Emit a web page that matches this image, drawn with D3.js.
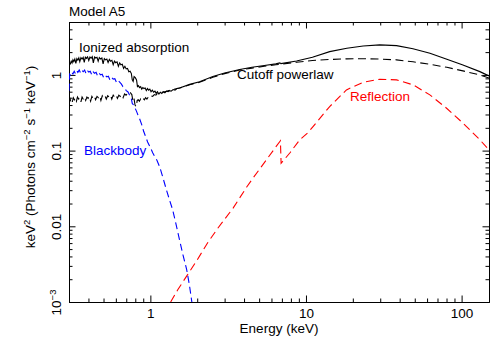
<!DOCTYPE html>
<html>
<head>
<meta charset="utf-8">
<script src="https://cdn.jsdelivr.net/npm/d3@7"></script>
<style>
body { margin: 0; background: #fff; }
svg { display: block; font-family: "Liberation Sans", Arial, Helvetica, sans-serif; }
</style>
</head>
<body>
<svg width="491" height="337"></svg>
<script>
// values: [energy keV, keV^2 flux]
const total = [
  [0.300, 1.22], [0.302, 1.45], [0.306, 1.40], [0.310, 1.52], [0.314, 1.44], [0.318, 1.58], [0.322, 1.50],
  [0.327, 1.62], [0.332, 1.42], [0.337, 1.64], [0.342, 1.57], [0.347, 1.68], [0.352, 1.50], [0.358, 1.69],
  [0.364, 1.62], [0.370, 1.70], [0.376, 1.46], [0.382, 1.71], [0.388, 1.65], [0.395, 1.73], [0.402, 1.55],
  [0.409, 1.72], [0.416, 1.66], [0.423, 1.74], [0.430, 1.44], [0.438, 1.72], [0.446, 1.67], [0.454, 1.71],
  [0.462, 1.52], [0.470, 1.69], [0.479, 1.62], [0.488, 1.67], [0.497, 1.40], [0.506, 1.64], [0.515, 1.58],
  [0.525, 1.62], [0.535, 1.46], [0.545, 1.60], [0.555, 1.52], [0.566, 1.56], [0.577, 1.36], [0.588, 1.52],
  [0.599, 1.45], [0.611, 1.49], [0.623, 1.30], [0.635, 1.44], [0.647, 1.36], [0.660, 1.38], [0.673, 1.22],
  [0.686, 1.30], [0.699, 1.20], [0.713, 1.22], [0.727, 1.10], [0.741, 1.12], [0.755, 1.04], [0.765, 0.86],
  [0.775, 0.82], [0.786, 0.95], [0.800, 0.92], [0.815, 0.86], [0.826, 0.70], [0.838, 0.72], [0.852, 0.68],
  [0.866, 0.70], [0.880, 0.65], [0.895, 0.68], [0.910, 0.66], [0.926, 0.67], [0.942, 0.62], [0.958, 0.66],
  [0.975, 0.63], [0.992, 0.65], [1.010, 0.60], [1.030, 0.63], [1.050, 0.59], [1.070, 0.61], [1.090, 0.57],
  [1.110, 0.60], [1.135, 0.56], [1.160, 0.59], [1.185, 0.57], [1.210, 0.60], [1.240, 0.58], [1.270, 0.61],
  [1.300, 0.60], [1.330, 0.62], [1.360, 0.61], [1.400, 0.64], [1.440, 0.63], [1.480, 0.66], [1.540, 0.67],
  [1.79, 0.75], [2.07, 0.81], [2.52, 0.95], [3.0, 1.06], [3.75, 1.18], [4.5, 1.26], [5.4, 1.33], [6.4, 1.40],
  [6.8, 1.44], [6.9, 1.41], [8.7, 1.53], [11.0, 1.71], [14.2, 2.03], [18.3, 2.25], [23.3, 2.41], [29.8, 2.49],
  [38.2, 2.44], [48.7, 2.22], [62.6, 1.93], [80.4, 1.61], [102, 1.355], [131, 1.105], [150, 0.97]
];

const cutoff = [
  [0.300, 0.44], [0.303, 0.50], [0.307, 0.46], [0.311, 0.49], [0.315, 0.44], [0.320, 0.50], [0.325, 0.47],
  [0.330, 0.50], [0.335, 0.45], [0.340, 0.51], [0.346, 0.48], [0.352, 0.50], [0.358, 0.44], [0.364, 0.51],
  [0.370, 0.48], [0.377, 0.51], [0.384, 0.46], [0.391, 0.51], [0.398, 0.49], [0.405, 0.52], [0.413, 0.45],
  [0.421, 0.52], [0.429, 0.49], [0.437, 0.52], [0.445, 0.47], [0.454, 0.52], [0.463, 0.50], [0.472, 0.53],
  [0.481, 0.46], [0.491, 0.53], [0.501, 0.50], [0.511, 0.53], [0.521, 0.48], [0.532, 0.53], [0.543, 0.51],
  [0.554, 0.54], [0.565, 0.48], [0.577, 0.54], [0.589, 0.51], [0.601, 0.54], [0.614, 0.49], [0.627, 0.54],
  [0.640, 0.52], [0.654, 0.55], [0.668, 0.50], [0.683, 0.56], [0.698, 0.54], [0.713, 0.57], [0.729, 0.55],
  [0.745, 0.58], [0.760, 0.55], [0.772, 0.46], [0.784, 0.50], [0.797, 0.40], [0.810, 0.38], [0.823, 0.46],
  [0.836, 0.47], [0.850, 0.45], [0.866, 0.48], [0.882, 0.46], [0.898, 0.49], [0.915, 0.47], [0.932, 0.50],
  [0.950, 0.48], [0.970, 0.51], [0.990, 0.50], [1.010, 0.53], [1.035, 0.52], [1.060, 0.55], [1.085, 0.54],
  [1.110, 0.57], [1.150, 0.58], [1.20, 0.59], [1.27, 0.61], [1.39, 0.64], [1.54, 0.67], [1.79, 0.74],
  [2.07, 0.80], [2.52, 0.93], [3.0, 1.04], [3.75, 1.16], [4.5, 1.23], [5.4, 1.30], [6.4, 1.36], [7.0, 1.39],
  [8.7, 1.47], [11.0, 1.55], [14.2, 1.60], [18.3, 1.63], [23.3, 1.635], [29.8, 1.62], [38.2, 1.58],
  [48.7, 1.49], [62.6, 1.38], [80.4, 1.26], [102, 1.13], [131, 1.0], [150, 0.91]
];

const blackbody = [
  [0.300, 0.62], [0.303, 1.02], [0.308, 0.98], [0.313, 1.08], [0.318, 1.03], [0.324, 1.12], [0.330, 1.04],
  [0.336, 1.14], [0.342, 1.08], [0.349, 1.16], [0.356, 1.06], [0.363, 1.15], [0.370, 1.10], [0.378, 1.16],
  [0.386, 1.04], [0.394, 1.14], [0.402, 1.09], [0.411, 1.12], [0.420, 1.00], [0.429, 1.10], [0.438, 1.05],
  [0.448, 1.08], [0.458, 0.97], [0.468, 1.05], [0.479, 1.00], [0.490, 1.02], [0.501, 0.92], [0.513, 0.99],
  [0.525, 0.94], [0.537, 0.96], [0.550, 0.86], [0.563, 0.93], [0.577, 0.88], [0.591, 0.89], [0.605, 0.80],
  [0.620, 0.85], [0.635, 0.80], [0.650, 0.76], [0.666, 0.70], [0.682, 0.68], [0.699, 0.62], [0.716, 0.60],
  [0.733, 0.55], [0.750, 0.52], [0.765, 0.42], [0.780, 0.40], [0.795, 0.37], [0.815, 0.33], [0.835, 0.29],
  [0.855, 0.26], [0.880, 0.22], [0.905, 0.18], [0.93, 0.155], [0.96, 0.13], [1.00, 0.11], [1.035, 0.094],
  [1.07, 0.082], [1.10, 0.075], [1.148, 0.061], [1.20, 0.045], [1.27, 0.030], [1.33, 0.022], [1.39, 0.0166],
  [1.46, 0.0108], [1.54, 0.0066], [1.62, 0.0042], [1.71, 0.0027], [1.78, 0.0017], [1.85, 0.00098]
];

const reflection = [
  [1.35, 0.00100], [1.50, 0.00145], [1.71, 0.0022], [2.0, 0.0036], [2.34, 0.0061], [2.72, 0.0095],
  [3.40, 0.0174], [4.16, 0.033], [4.57, 0.0434], [5.57, 0.0756], [6.40, 0.112], [6.85, 0.135],
  [6.92, 0.068], [7.87, 0.093], [9.12, 0.139], [10.3, 0.173], [11.1, 0.208], [14.2, 0.382], [18.2, 0.634],
  [23.3, 0.80], [29.8, 0.877], [38.2, 0.859], [48.9, 0.738], [62.5, 0.545], [80.1, 0.363], [102, 0.231],
  [131, 0.139], [150, 0.102]
];

const xMajorTicks = [1, 10, 100];
const xTickLabels = ["1", "10", "100"];
const yMajorTicks = [0.001, 0.01, 0.1, 1];
const yTickLabels = ["10^-3", "0.01", "0.1", "1"];

const svg = d3.select("svg");
const mLeft = 69, mRight = 489, mTop = 22, mBottom = 302;
const fs = 13.5;

const x = d3.scaleLog().domain([0.3, 150]).range([mLeft, mRight]);
const y = d3.scaleLog().domain([0.001, 5]).range([mBottom, mTop]);

const xMinor = x.ticks().filter(d => !xMajorTicks.includes(d));
const yMinor = y.ticks().filter(d => !yMajorTicks.some(m => Math.abs(m - d) < 1e-9));

svg.append("defs").append("clipPath").attr("id", "plotclip")
  .append("rect").attr("x", mLeft).attr("y", mTop).attr("width", mRight - mLeft).attr("height", mBottom - mTop);

function styleAxis(g) {
  g.selectAll("line").attr("stroke", "#000");
  g.select(".domain").attr("stroke", "#000");
  g.attr("font-family", null).attr("font-size", fs);
}

// bottom axis
svg.append("g").attr("transform", `translate(0,${mBottom})`)
  .call(d3.axisBottom(x).tickValues(xMinor).tickSize(-3.5).tickSizeOuter(0).tickFormat(""))
  .call(styleAxis);
svg.append("g").attr("transform", `translate(0,${mBottom})`)
  .call(d3.axisBottom(x).tickValues(xMajorTicks).tickSize(-6.5).tickSizeOuter(0).tickPadding(6)
    .tickFormat((d, i) => xTickLabels[i]))
  .call(styleAxis);

// top axis
svg.append("g").attr("transform", `translate(0,${mTop})`)
  .call(d3.axisTop(x).tickValues(xMinor).tickSize(-3.5).tickSizeOuter(0).tickFormat(""))
  .call(styleAxis);
svg.append("g").attr("transform", `translate(0,${mTop})`)
  .call(d3.axisTop(x).tickValues(xMajorTicks).tickSize(-6.5).tickSizeOuter(0).tickFormat(""))
  .call(styleAxis);

// left axis
svg.append("g").attr("transform", `translate(${mLeft},0)`)
  .call(d3.axisLeft(y).tickValues(yMinor).tickSize(-3.5).tickSizeOuter(0).tickFormat(""))
  .call(styleAxis);
const yAxisG = svg.append("g").attr("transform", `translate(${mLeft},0)`)
  .call(d3.axisLeft(y).tickValues(yMajorTicks).tickSize(-6.5).tickSizeOuter(0)
    .tickFormat((d, i) => yTickLabels[i]))
  .call(styleAxis);
yAxisG.selectAll("text")
  .attr("x", 0).attr("y", -8).attr("dy", 0)
  .attr("transform", "rotate(-90)")
  .attr("text-anchor", "middle")
  .each(function () {
    const t = d3.select(this);
    const s = t.text();
    if (s.includes("^")) {
      const [base, exp] = s.split("^");
      t.text(null);
      t.append("tspan").text(base);
      t.append("tspan").attr("dy", -5).attr("font-size", fs * 0.7).text(exp.replace("-", "\u2212"));
    }
  });

// right axis
svg.append("g").attr("transform", `translate(${mRight},0)`)
  .call(d3.axisRight(y).tickValues(yMinor).tickSize(-3.5).tickSizeOuter(0).tickFormat(""))
  .call(styleAxis);
svg.append("g").attr("transform", `translate(${mRight},0)`)
  .call(d3.axisRight(y).tickValues(yMajorTicks).tickSize(-6.5).tickSizeOuter(0).tickFormat(""))
  .call(styleAxis);

// curves
const line = d3.line().x(d => x(d[0])).y(d => y(d[1]));
const plot = svg.append("g").attr("clip-path", "url(#plotclip)");

plot.append("path").datum(reflection)
  .attr("fill", "none").attr("stroke", "#ff0000").attr("stroke-width", 1.1)
  .attr("stroke-dasharray", "8,4.5").attr("d", line);
plot.append("path").datum(blackbody)
  .attr("fill", "none").attr("stroke", "#0000ff").attr("stroke-width", 1.1)
  .attr("stroke-dasharray", "7,4").attr("d", line);
plot.append("path").datum(cutoff)
  .attr("fill", "none").attr("stroke", "#000").attr("stroke-width", 1.1)
  .attr("stroke-dasharray", "8,4.5").attr("d", line);
plot.append("path").datum(total)
  .attr("fill", "none").attr("stroke", "#000").attr("stroke-width", 1.1)
  .attr("d", line);

// labels
svg.append("text").attr("x", 69).attr("y", 16).attr("font-size", fs).text("Model A5");
svg.append("text").attr("x", 79).attr("y", 52).attr("font-size", fs).text("Ionized absorption");
svg.append("text").attr("x", 237).attr("y", 79).attr("font-size", fs).text("Cutoff powerlaw");
svg.append("text").attr("x", 350).attr("y", 101).attr("font-size", fs).attr("fill", "#ff0000").text("Reflection");
svg.append("text").attr("x", 84).attr("y", 155).attr("font-size", fs).attr("fill", "#0000ff").text("Blackbody");

svg.append("text").attr("x", (mLeft + mRight) / 2).attr("y", 333)
  .attr("text-anchor", "middle").attr("font-size", fs).text("Energy (keV)");

const yLab = svg.append("text")
  .attr("transform", `translate(35,${(mTop + mBottom) / 2 - 5}) rotate(-90)`)
  .attr("text-anchor", "middle").attr("font-size", fs);
const parts = [
  ["keV", 0], ["2", 1], [" (Photons cm", 0], ["\u22122", 1], [" s", 0], ["\u22121", 1], [" keV", 0], ["\u22121", 1], [")", 0]
];
let up = 0;
parts.forEach(([txt, sup]) => {
  const shift = sup ? -5 : 0;
  yLab.append("tspan")
    .attr("dy", shift - up)
    .attr("font-size", sup ? fs * 0.7 : fs)
    .text(txt);
  up = shift;
});
</script>
</body>
</html>
